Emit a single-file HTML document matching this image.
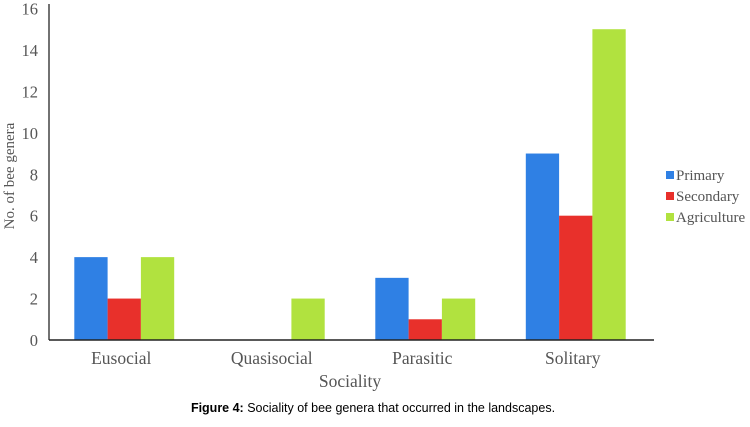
<!DOCTYPE html>
<html><head><meta charset="utf-8"><style>
body{margin:0;background:#fff;width:750px;height:422px;overflow:hidden}
text{font-family:"Liberation Serif",serif;fill:#555}
</style></head><body>
<svg width="750" height="422">
<g id="plot"></g>
<text x="373" y="412" text-anchor="middle" style="font-family:'Liberation Sans',sans-serif;font-size:12.5px;fill:#000"><tspan font-weight="bold">Figure 4:</tspan> Sociality of bee genera that occurred in the landscapes.</text>
</svg>
<script>
const categories=["Eusocial","Quasisocial","Parasitic","Solitary"];
const primary=[4,0,3,9];
const secondary=[2,0,1,6];
const agriculture=[4,2,2,15];
const yTicks=[0,2,4,6,8,10,12,14,16];
const seriesNames=["Primary","Secondary","Agriculture"];
const colors=["#2f80e4","#e8302b","#b1e23f"];
const NS="http://www.w3.org/2000/svg";
const g=document.getElementById('plot');
const x0=49,x1=651,yb=340,yt=8.5,ymax=16;
const band=(x1-x0)/categories.length, bw=33.3;
const y=v=>yb-(v/ymax)*(yb-yt);
function el(t,a,txt){const e=document.createElementNS(NS,t);for(const k in a)e.setAttribute(k,a[k]);if(txt!=null)e.textContent=txt;g.appendChild(e);return e;}
yTicks.forEach(v=>{const t=el('text',{x:38,y:y(v)+6,'text-anchor':'end','font-size':'16.5'},v);

});
const series=[primary,secondary,agriculture];
categories.forEach((c,i)=>{const cx=x0+band*(i+0.5);
series.forEach((s,j)=>{if(s[i]<=0)return;const r=el('rect',{x:cx-1.5*bw+j*bw,y:y(s[i]),width:bw,height:yb-y(s[i]),fill:colors[j]});

});
const t=el('text',{x:cx-3,y:364,'text-anchor':'middle','font-size':'17.5'},c);

});
const ax=el('line',{x1:x0,y1:4,x2:x0,y2:yb,stroke:'#444','stroke-width':1.5});


const bx=el('line',{x1:x0,y1:yb,x2:654,y2:yb,stroke:'#222','stroke-width':1.5});


const xt=el('text',{x:350,y:387,'text-anchor':'middle','font-size':'17.5'},'Sociality');


const yt2=el('text',{x:0,y:0,'text-anchor':'middle','font-size':'15',transform:'translate(14,176) rotate(-90)'},'No. of bee genera');


seriesNames.forEach((n,j)=>{const ly=171+j*21;
const r=el('rect',{x:666,y:ly,width:8,height:8,fill:colors[j]});


const t=el('text',{x:676,y:ly+9,'font-size':'15'},n);

});
</script>
</body></html>
